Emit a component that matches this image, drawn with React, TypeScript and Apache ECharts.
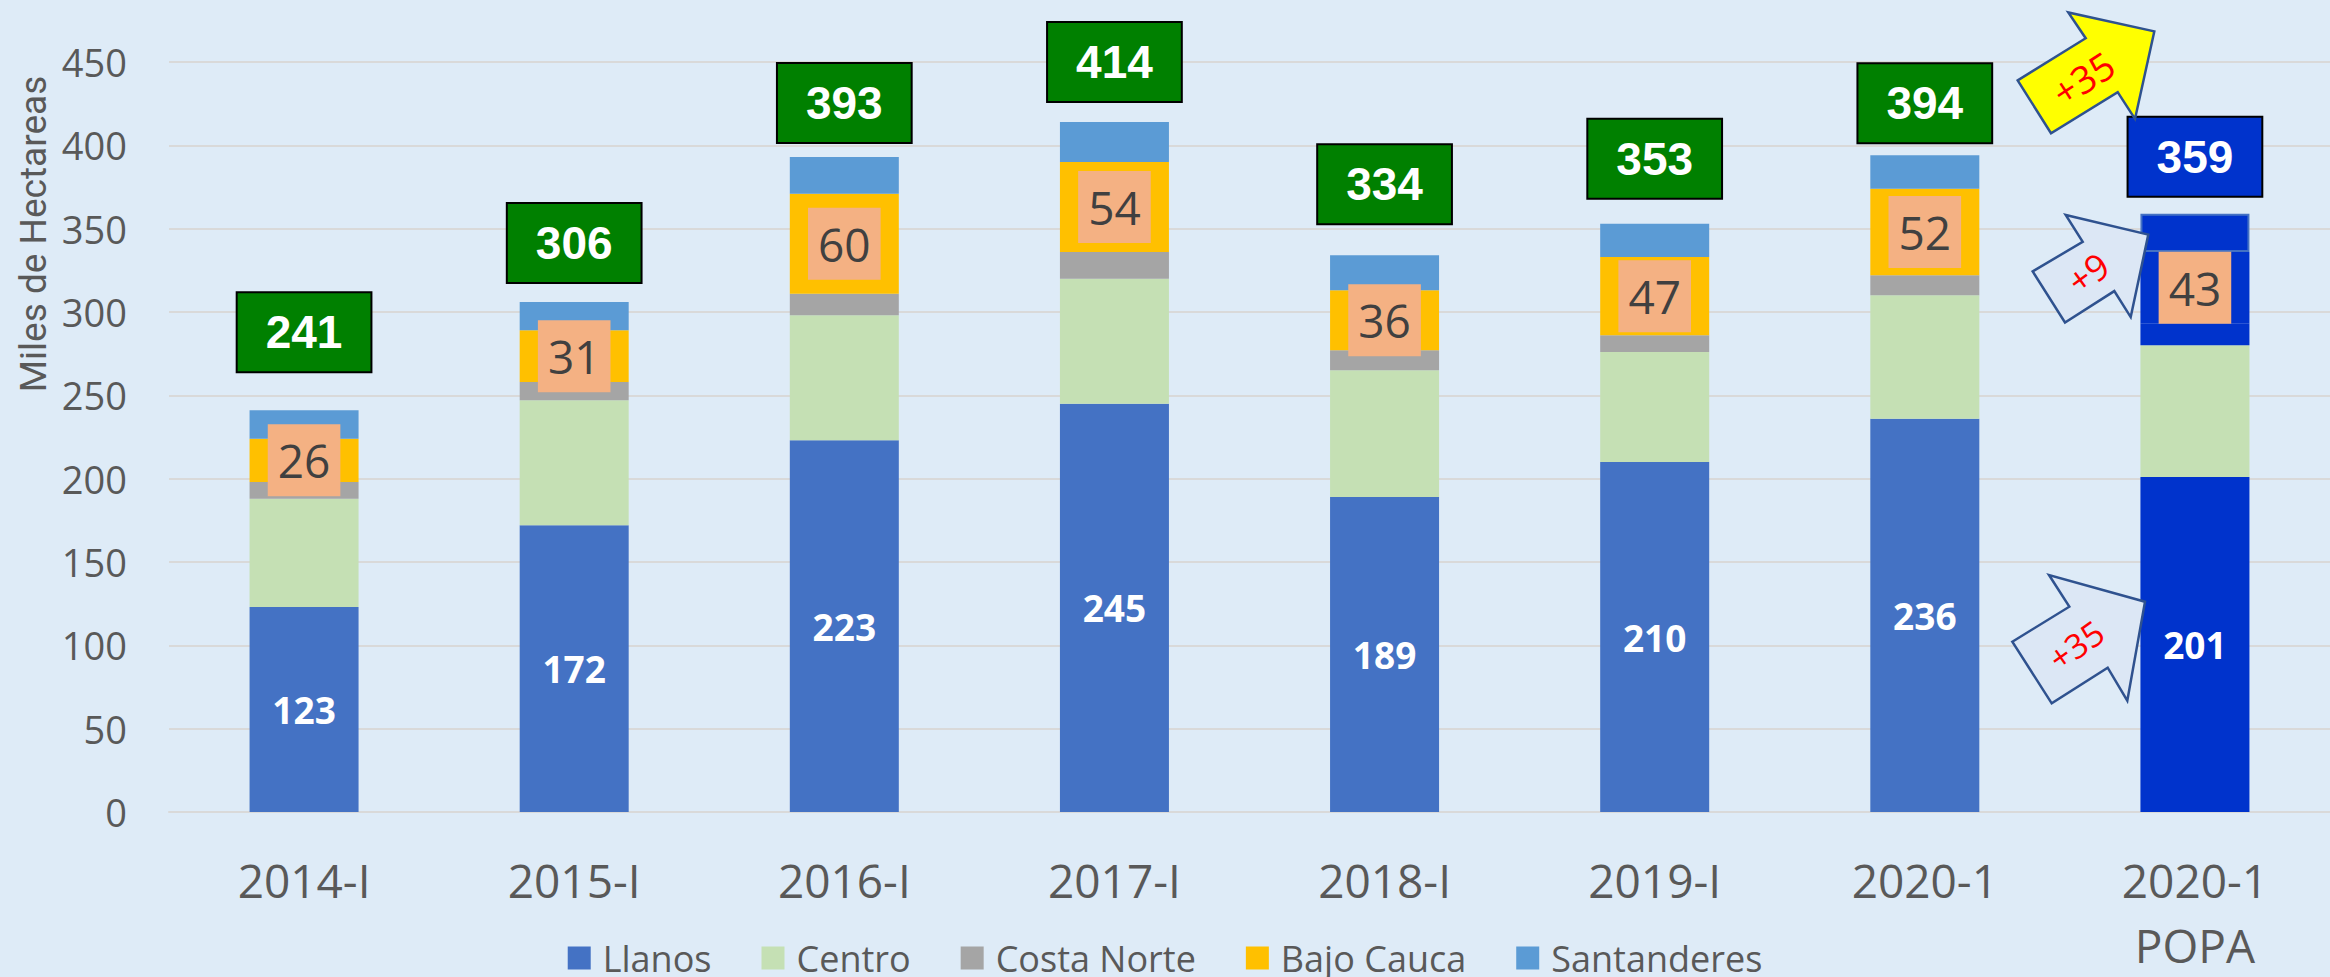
import React, { useEffect, useRef } from "react";
import * as echarts from "echarts";

// ---- data ----
const categories = ["2014-I", "2015-I", "2016-I", "2017-I", "2018-I", "2019-I", "2020-1", "2020-1\nPOPA"];
const llanos = [123, 172, 223, 245, 189, 210, 236, 201];
const centro = [65, 75, 75, 75, 76, 66, 74, 79];
const costaNorte = [10, 11, 13, 16, 12, 10, 12, 13];
const bajoCauca = [26, 31, 60, 54, 36, 47, 52, 43];
const santanderes = [17, 17, 22, 24, 21, 20, 20, 23];
const totals = [241, 306, 393, 414, 334, 353, 394, 359];
const seriesNames = ["Llanos", "Centro", "Costa Norte", "Bajo Cauca", "Santanderes"];
const yMin = 0;
const yMax = 450;
const yInterval = 50;
const arrowTexts = ["+35", "+9", "+35"];

// ---- styling / layout ----
const BG = "#DEEBF7";
const POPA_INDEX = 7;
const POPA_BLUE = "#0033CC";
const colors = {
  Llanos: "#4472C4",
  Centro: "#C5E0B4",
  "Costa Norte": "#A5A5A5",
  "Bajo Cauca": "#FFC000",
  Santanderes: "#5B9BD5",
};
// pixel gap between bar top and total box, per category
const totalGaps = [39, 20, 15, 21, 32, 26, 13, 18];

const arrowShapes = [
  {
    points: [[2017.7, 80.4], [2085.7, 38.2], [2068.3, 12.5], [2154.3, 31.4], [2135, 118.9], [2117.7, 92.1], [2051, 133.2]],
    fill: "#FFFF00",
    text: { x: 2083, y: 78, rot: 33, size: 38 },
  },
  {
    points: [[2032.7, 271.4], [2082.7, 241.8], [2065.7, 215], [2148.3, 234.6], [2130.7, 317.1], [2114.3, 291.1], [2065, 322.5]],
    fill: "#DCE7F5",
    text: { x: 2088, y: 273, rot: 36, size: 36 },
  },
  {
    points: [[2012.3, 641.7], [2069.3, 606.7], [2049, 575], [2145, 601.7], [2127.3, 700.7], [2107.7, 667.7], [2051.7, 703.3]],
    fill: "#DCE7F5",
    text: { x: 2076, y: 645, rot: 35, size: 34 },
  },
];

function popaData(arr: number[], extraStyle: any = {}) {
  return arr.map((v, i) =>
    i === POPA_INDEX ? { value: v, itemStyle: { color: POPA_BLUE, ...extraStyle } } : v
  );
}

export default function App() {
  const ref = useRef<HTMLDivElement>(null);

  useEffect(() => {
    document.body.style.margin = "0";
    const chart = echarts.init(ref.current!, null, { renderer: "svg" });

    const graphic: any[] = [
      {
        type: "text",
        x: 33,
        y: 234,
        rotation: Math.PI / 2,
        style: {
          text: "Miles de Hectareas",
          fill: "#595959",
          fontSize: 37,
          fontFamily: "Roboto",
          align: "center",
          verticalAlign: "middle",
        },
      },
    ];
    arrowShapes.forEach((a, i) => {
      graphic.push({
        type: "polygon",
        shape: { points: a.points },
        style: { fill: a.fill, stroke: "#2F528F", lineWidth: 2.5 },
        z: 100,
      });
      graphic.push({
        type: "text",
        x: a.text.x,
        y: a.text.y,
        rotation: (a.text.rot * Math.PI) / 180,
        z: 101,
        style: {
          text: arrowTexts[i],
          fill: "#FF0000",
          fontSize: a.text.size,
          fontFamily: "Open Sans",
          align: "center",
          verticalAlign: "middle",
        },
      });
    });

    const sumTotals = categories.map(
      (_, i) => llanos[i] + centro[i] + costaNorte[i] + bajoCauca[i] + santanderes[i]
    );

    const option: any = {
      animation: false,
      backgroundColor: BG,
      grid: { left: 169, width: 2182, top: 62, bottom: 163, containLabel: false },
      legend: {
        data: seriesNames,
        left: "center",
        top: 940,
        padding: 0,
        icon: "rect",
        itemWidth: 23,
        itemHeight: 23,
        itemGap: 50,
        textStyle: {
          fontSize: 36,
          color: "#595959",
          fontFamily: "Open Sans",
          padding: [0, 0, 0, 7],
        },
      },
      xAxis: {
        type: "category",
        data: categories,
        axisLine: { show: true, lineStyle: { color: "#D9D9D9", width: 2 } },
        axisTick: { show: false },
        axisLabel: {
          fontSize: 46,
          color: "#595959",
          fontFamily: "Open Sans",
          lineHeight: 65,
          margin: 35,
          interval: 0,
        },
      },
      yAxis: {
        type: "value",
        min: yMin,
        max: yMax,
        interval: yInterval,
        axisLine: { show: false },
        axisTick: { show: false },
        splitLine: { lineStyle: { color: "#D9D9D9", width: 2 } },
        axisLabel: {
          fontSize: 38,
          color: "#595959",
          fontFamily: "Open Sans",
          margin: 42,
        },
      },
      series: [
        {
          name: "Llanos",
          type: "bar",
          stack: "total",
          barWidth: 109,
          itemStyle: { color: colors.Llanos },
          label: {
            show: true,
            position: "inside",
            color: "#FFFFFF",
            fontWeight: "bold",
            fontSize: 37,
            fontFamily: "Open Sans",
          },
          data: popaData(llanos),
        },
        {
          name: "Centro",
          type: "bar",
          stack: "total",
          barWidth: 109,
          itemStyle: { color: colors.Centro },
          data: centro,
        },
        {
          name: "Costa Norte",
          type: "bar",
          stack: "total",
          barWidth: 109,
          itemStyle: { color: colors["Costa Norte"] },
          data: popaData(costaNorte),
        },
        {
          name: "Bajo Cauca",
          type: "bar",
          stack: "total",
          barWidth: 109,
          itemStyle: { color: colors["Bajo Cauca"] },
          label: {
            show: true,
            position: "inside",
            color: "#404040",
            fontSize: 46,
            fontFamily: "Open Sans",
            backgroundColor: "#F4B183",
            padding: [12, 10],
            lineHeight: 48,
          },
          data: popaData(bajoCauca),
        },
        {
          name: "Santanderes",
          type: "bar",
          stack: "total",
          barWidth: 109,
          itemStyle: { color: colors.Santanderes },
          data: popaData(santanderes, { borderColor: "#4472C4", borderWidth: 2 }),
        },
        {
          name: "Total",
          type: "scatter",
          symbolSize: 0,
          z: 5,
          silent: true,
          itemStyle: { opacity: 1 },
          emphasis: { disabled: true },
          data: sumTotals.map((v, i) => ({
            value: v,
            label: {
              distance: totalGaps[i],
              backgroundColor: i === POPA_INDEX ? POPA_BLUE : "#008000",
            },
          })),
          label: {
            show: true,
            opacity: 1,
            position: "top",
            formatter: (p: any) => String(totals[p.dataIndex]),
            color: "#FFFFFF",
            fontWeight: "bold",
            fontSize: 46,
            fontFamily: "Liberation Sans",
            lineHeight: 46,
            padding: [16, 28],
            borderColor: "#000000",
            borderWidth: 2,
          },
        },
      ],
      graphic,
    };

    chart.setOption(option);
    return () => chart.dispose();
  }, []);

  return (
    <div
      ref={ref}
      style={{ position: "fixed", left: 0, top: 0, width: 2330, height: 977 }}
    />
  );
}
